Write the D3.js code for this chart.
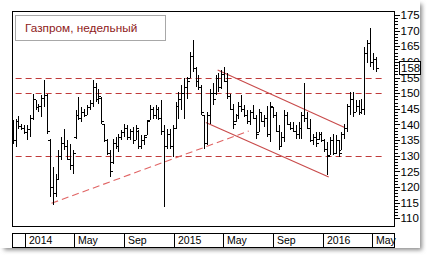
<!DOCTYPE html>
<html>
<head>
<meta charset="utf-8">
<script src="https://cdn.jsdelivr.net/npm/d3@7"></script>
<style>
  body { margin: 0; background: #fff; }
  svg { display: block; }
  text { font-family: "Liberation Sans", Arial, sans-serif; }
</style>
</head>
<body>
<svg id="chart"></svg>
<script>
// weekly bars, first one is the week of 2 Dec 2013
const firstWeek = "2013-12-02";

const highs = [141.4,141.9,142.7,140.3,139.8,139.8,143,149.9,147.8,146.7,149.4,154.2,149.9,135.5,126.5,124.3,131.8,136,138.7,135,
  133.9,131.8,144.6,148.9,145.7,145.1,146.2,147.8,154.2,153.1,151.5,148.9,140.3,135.5,131.8,135.5,136,137.1,138.2,140.3,
  139.8,138.7,139.3,139.8,138.2,136.6,136.6,141.4,146.2,145.7,146.2,145.7,147.8,139.8,138.7,138.7,139.8,147.3,150.5,152.6,
  154.7,155.3,163.3,167,158.5,155.8,152.6,143,144.1,151.5,153.1,155.8,156.3,157.4,158.5,156.3,149.9,146.7,143.5,147.3,
  149.4,146.2,144.6,144.6,146.2,143,145.1,144.1,143,146,147.3,145.7,144,139.8,137.7,144.6,144.1,140.9,140.9,139.8,
  140.9,144.1,153.1,144.1,141.9,137.1,137.7,137.7,137.7,135.5,134.5,136.1,137.1,136.6,135,137.7,140.3,146.7,150.5,150.5,
  147.8,147.8,148.3,164.9,167,170.7,162.7,161.7];
const lows = [133.9,132.9,138.7,138.2,137.1,135,136,141.4,144.6,144,142.5,145.7,137.1,116.8,114.2,116.8,122.2,128.6,131.8,128.6,
  125.4,124.3,135.5,141.4,140.9,142.5,143,144.6,145.7,147.3,146.7,140.3,134.5,130.2,123.3,127.5,132.3,131.3,135,136,
  135,135,133.9,135,132.3,132.3,133.4,136.6,141.4,141.9,141.9,141.4,136.6,113.6,132.3,132.3,129.7,138.7,141.9,144.6,
  141.9,148.3,154.7,156.9,152,151,143,132.3,133.4,140.3,146.2,149.4,150.5,151.5,153.7,148.3,144.6,138.7,140.9,141.9,
  144.1,142.5,140.3,139.8,141.9,135.5,137.7,140.9,139.3,136,134.5,142,137.7,131.8,132.9,134.5,139.8,138.2,137.7,135.5,
  135.5,135.5,140.9,138.7,134.5,133.4,132.9,135,134.5,131.3,123.8,130.2,130.2,130.7,129.6,131.8,135.5,137.7,143,142.5,
  144.1,143,143.5,143,159.5,158.5,157.4,156.9];
const opens = [140,135,141,139.5,139,137.5,138.5,142,148,145.5,146,148.5,149.5,135,120,118,122.5,130,134,133,
  129,127,136,143,142,144,143,145.5,147,152,148,148.5,140,135,131,128,134,133,136,137.5,
  139,136,138,135,138,133,135,136.6,141.4,145,143,145,142,138,133,137,133,139,146,148,
  150,152,155,162,158,154,152,143,134,143,150,150,155,152,156,154,149,145,141,143,
  146,145,143,141,144,142,137.7,144,141,142,137,145.5,143,138,133,136,143,140,139,138,
  137,139,143,142,139,135,136,135.5,137,135,132,130.2,135,131,135,131.8,137,139,146,148,
  144.1,146,144,145,163,166,160,161];
const closes = [135,141,139.5,139,137.5,138.5,142,148,145.5,146,148.5,149.5,138,120,118,122.5,130,134,133,129,
  127,131,143,142,144,143,145.5,147,152,148,149,141,135,131,125,134,133,136,137.5,139,
  136,138,135,139,133,135,136,141,145,143,145,142,138,133,137,133,139,146,148,150,
  152,154,162,158,154,152,144,134,143,150,148,155,152,156,154,149,145,140,143,146,
  145,143,141,144,142,137,144,141,142,137,146,143,138,133,136,143,140,139,138,137,
  139,143,142,139,135,136,134,137,135,132,130,135,131,135,131,137,139,146,148,144,
  146,144,145,163,166,160,161,158];

const levels = [155, 150, 130];
const levelSpan = ["2013-12-09", "2016-06-01"];
const supportLine = [["2014-03-07", 114.8], ["2015-07-03", 137.9]];
const channelTop = [["2015-04-18", 157.4], ["2016-02-23", 139.0]];
const channelBottom = [["2015-03-20", 140.6], ["2016-01-15", 123.2]];

const monthCuts = ["2014-01-01", "2014-05-01", "2014-09-01", "2015-01-01", "2015-05-01", "2015-09-01", "2016-01-01", "2016-05-01"];
const monthLabels = ["2014", "May", "Sep", "2015", "May", "Sep", "2016", "May"];
const majorTicks = [110, 115, 120, 125, 130, 135, 140, 145, 150, 155, 160, 165, 170, 175];
const lastPrice = 158;
const title = "Газпром, недельный";

const W = 432, H = 261;
const plot = { left: 12, top: 11, right: 394, bottom: 226 };
const strip = { top: 233, bottom: 247 };

const parse = d3.timeParse("%Y-%m-%d");
const dates = highs.map((d, i) => d3.timeWeek.offset(parse(firstWeek), i));
const bars = highs.map((h, i) => ({ date: dates[i], high: h, low: lows[i], open: opens[i], close: closes[i] }));

const svg = d3.select("#chart").attr("width", W).attr("height", H);

const defs = svg.append("defs");
defs.append("filter").attr("id", "shadow").attr("x", "-10%").attr("y", "-10%").attr("width", "130%").attr("height", "130%")
  .append("feGaussianBlur").attr("stdDeviation", 2.2);
defs.append("clipPath").attr("id", "plotclip")
  .append("rect").attr("x", plot.left + 1).attr("y", plot.top + 1)
  .attr("width", plot.right - plot.left - 1).attr("height", plot.bottom - plot.top - 1);

// panel with drop shadow
svg.append("rect").attr("x", 4).attr("y", 4).attr("width", 418).attr("height", 246)
  .attr("fill", "#8a8a8a").attr("filter", "url(#shadow)");
svg.append("rect").attr("x", 0).attr("y", 0).attr("width", 420).attr("height", 248).attr("fill", "#fff");

const x = d3.scaleTime()
  .domain([parse("2014-01-01"), parse("2016-01-01")])
  .range([25, 323]);
const y = d3.scaleLinear().domain([110, 175]).range([218.3, 15]);

const g = svg.append("g").attr("clip-path", "url(#plotclip)");

// horizontal levels
g.selectAll(".level").data(levels).enter().append("line")
  .attr("x1", x(parse(levelSpan[0]))).attr("x2", x(parse(levelSpan[1])))
  .attr("y1", d => Math.round(y(d)) + 0.5).attr("y2", d => Math.round(y(d)) + 0.5)
  .attr("stroke", "#c03a3a").attr("stroke-width", 1).attr("stroke-dasharray", "6,4");

// trend lines
const line = d3.line().x(d => x(parse(d[0]))).y(d => y(d[1]));
g.append("path").attr("d", line(supportLine)).attr("fill", "none")
  .attr("stroke", "#e06464").attr("stroke-width", 1.1).attr("stroke-dasharray", "7,4");
g.append("path").attr("d", line(channelTop)).attr("fill", "none")
  .attr("stroke", "#c84a4a").attr("stroke-width", 1.1);
g.append("path").attr("d", line(channelBottom)).attr("fill", "none")
  .attr("stroke", "#c84a4a").attr("stroke-width", 1.1);

// OHLC bars
const bg = g.append("g").attr("fill", "#000").attr("shape-rendering", "crispEdges");
const bx = d => Math.round(x(d.date));
bg.selectAll(".hl").data(bars).enter().append("rect")
  .attr("x", bx).attr("y", d => Math.round(y(d.high)))
  .attr("width", 1).attr("height", d => Math.max(1, Math.round(y(d.low)) - Math.round(y(d.high))));
bg.selectAll(".op").data(bars).enter().append("rect")
  .attr("x", d => bx(d) - 2).attr("y", d => Math.round(y(d.open)))
  .attr("width", 2).attr("height", 1);
bg.selectAll(".cl").data(bars).enter().append("rect")
  .attr("x", d => bx(d) + 1).attr("y", d => Math.round(y(d.close)))
  .attr("width", 2).attr("height", 1);

// plot frame
svg.append("rect").attr("x", plot.left + 0.5).attr("y", plot.top + 0.5)
  .attr("width", plot.right - plot.left).attr("height", plot.bottom - plot.top)
  .attr("fill", "none").attr("stroke", "#000");

// price axis on the right
const minorAxis = d3.axisRight(y).tickValues(d3.range(110, 176, 1)).tickSize(3).tickFormat("");
const majorAxis = d3.axisRight(y).tickValues(majorTicks).tickSize(5).tickPadding(1);
const ax1 = svg.append("g").attr("transform", `translate(${plot.right + 0.5},0)`).call(minorAxis);
const ax2 = svg.append("g").attr("transform", `translate(${plot.right + 0.5},0)`).call(majorAxis);
[ax1, ax2].forEach(a => {
  a.select(".domain").remove();
  a.selectAll("line").attr("stroke", "#000").attr("shape-rendering", "crispEdges");
});
ax2.selectAll("text").attr("font-size", 11.5).attr("fill", "#000")
  .attr("font-family", "'Liberation Sans', Arial, sans-serif");

// last price box
const py = y(lastPrice);
svg.append("rect").attr("x", 399.5).attr("y", Math.round(py - 7) + 0.5).attr("width", 21).attr("height", 13)
  .attr("fill", "#fff").attr("stroke", "#000");
svg.append("text").attr("x", 401).attr("y", py).attr("dy", "0.36em")
  .attr("font-size", 11.5).text(lastPrice);

// month strip
svg.append("rect").attr("x", plot.left + 0.5).attr("y", strip.top + 0.5)
  .attr("width", plot.right - plot.left).attr("height", strip.bottom - strip.top)
  .attr("fill", "#fff").attr("stroke", "#000");
const cuts = monthCuts.map(parse);
svg.selectAll(".cut").data(cuts).enter().append("line")
  .attr("x1", d => Math.round(x(d)) + 0.5).attr("x2", d => Math.round(x(d)) + 0.5)
  .attr("y1", strip.top).attr("y2", strip.bottom)
  .attr("stroke", "#000");
svg.selectAll(".mlab").data(cuts).enter().append("text")
  .attr("x", d => Math.round(x(d)) + 4).attr("y", strip.top + 11)
  .attr("font-size", 10.5).attr("fill", "#000")
  .text((d, i) => monthLabels[i]);

// title box
svg.append("rect").attr("x", 15.5).attr("y", 15.5).attr("width", 150).attr("height", 25)
  .attr("fill", "#fff").attr("stroke", "#a8a8a8");
svg.append("text").attr("x", 25).attr("y", 32).attr("font-size", 11.8)
  .attr("fill", "#8e2020").text(title);
</script>
</body>
</html>
